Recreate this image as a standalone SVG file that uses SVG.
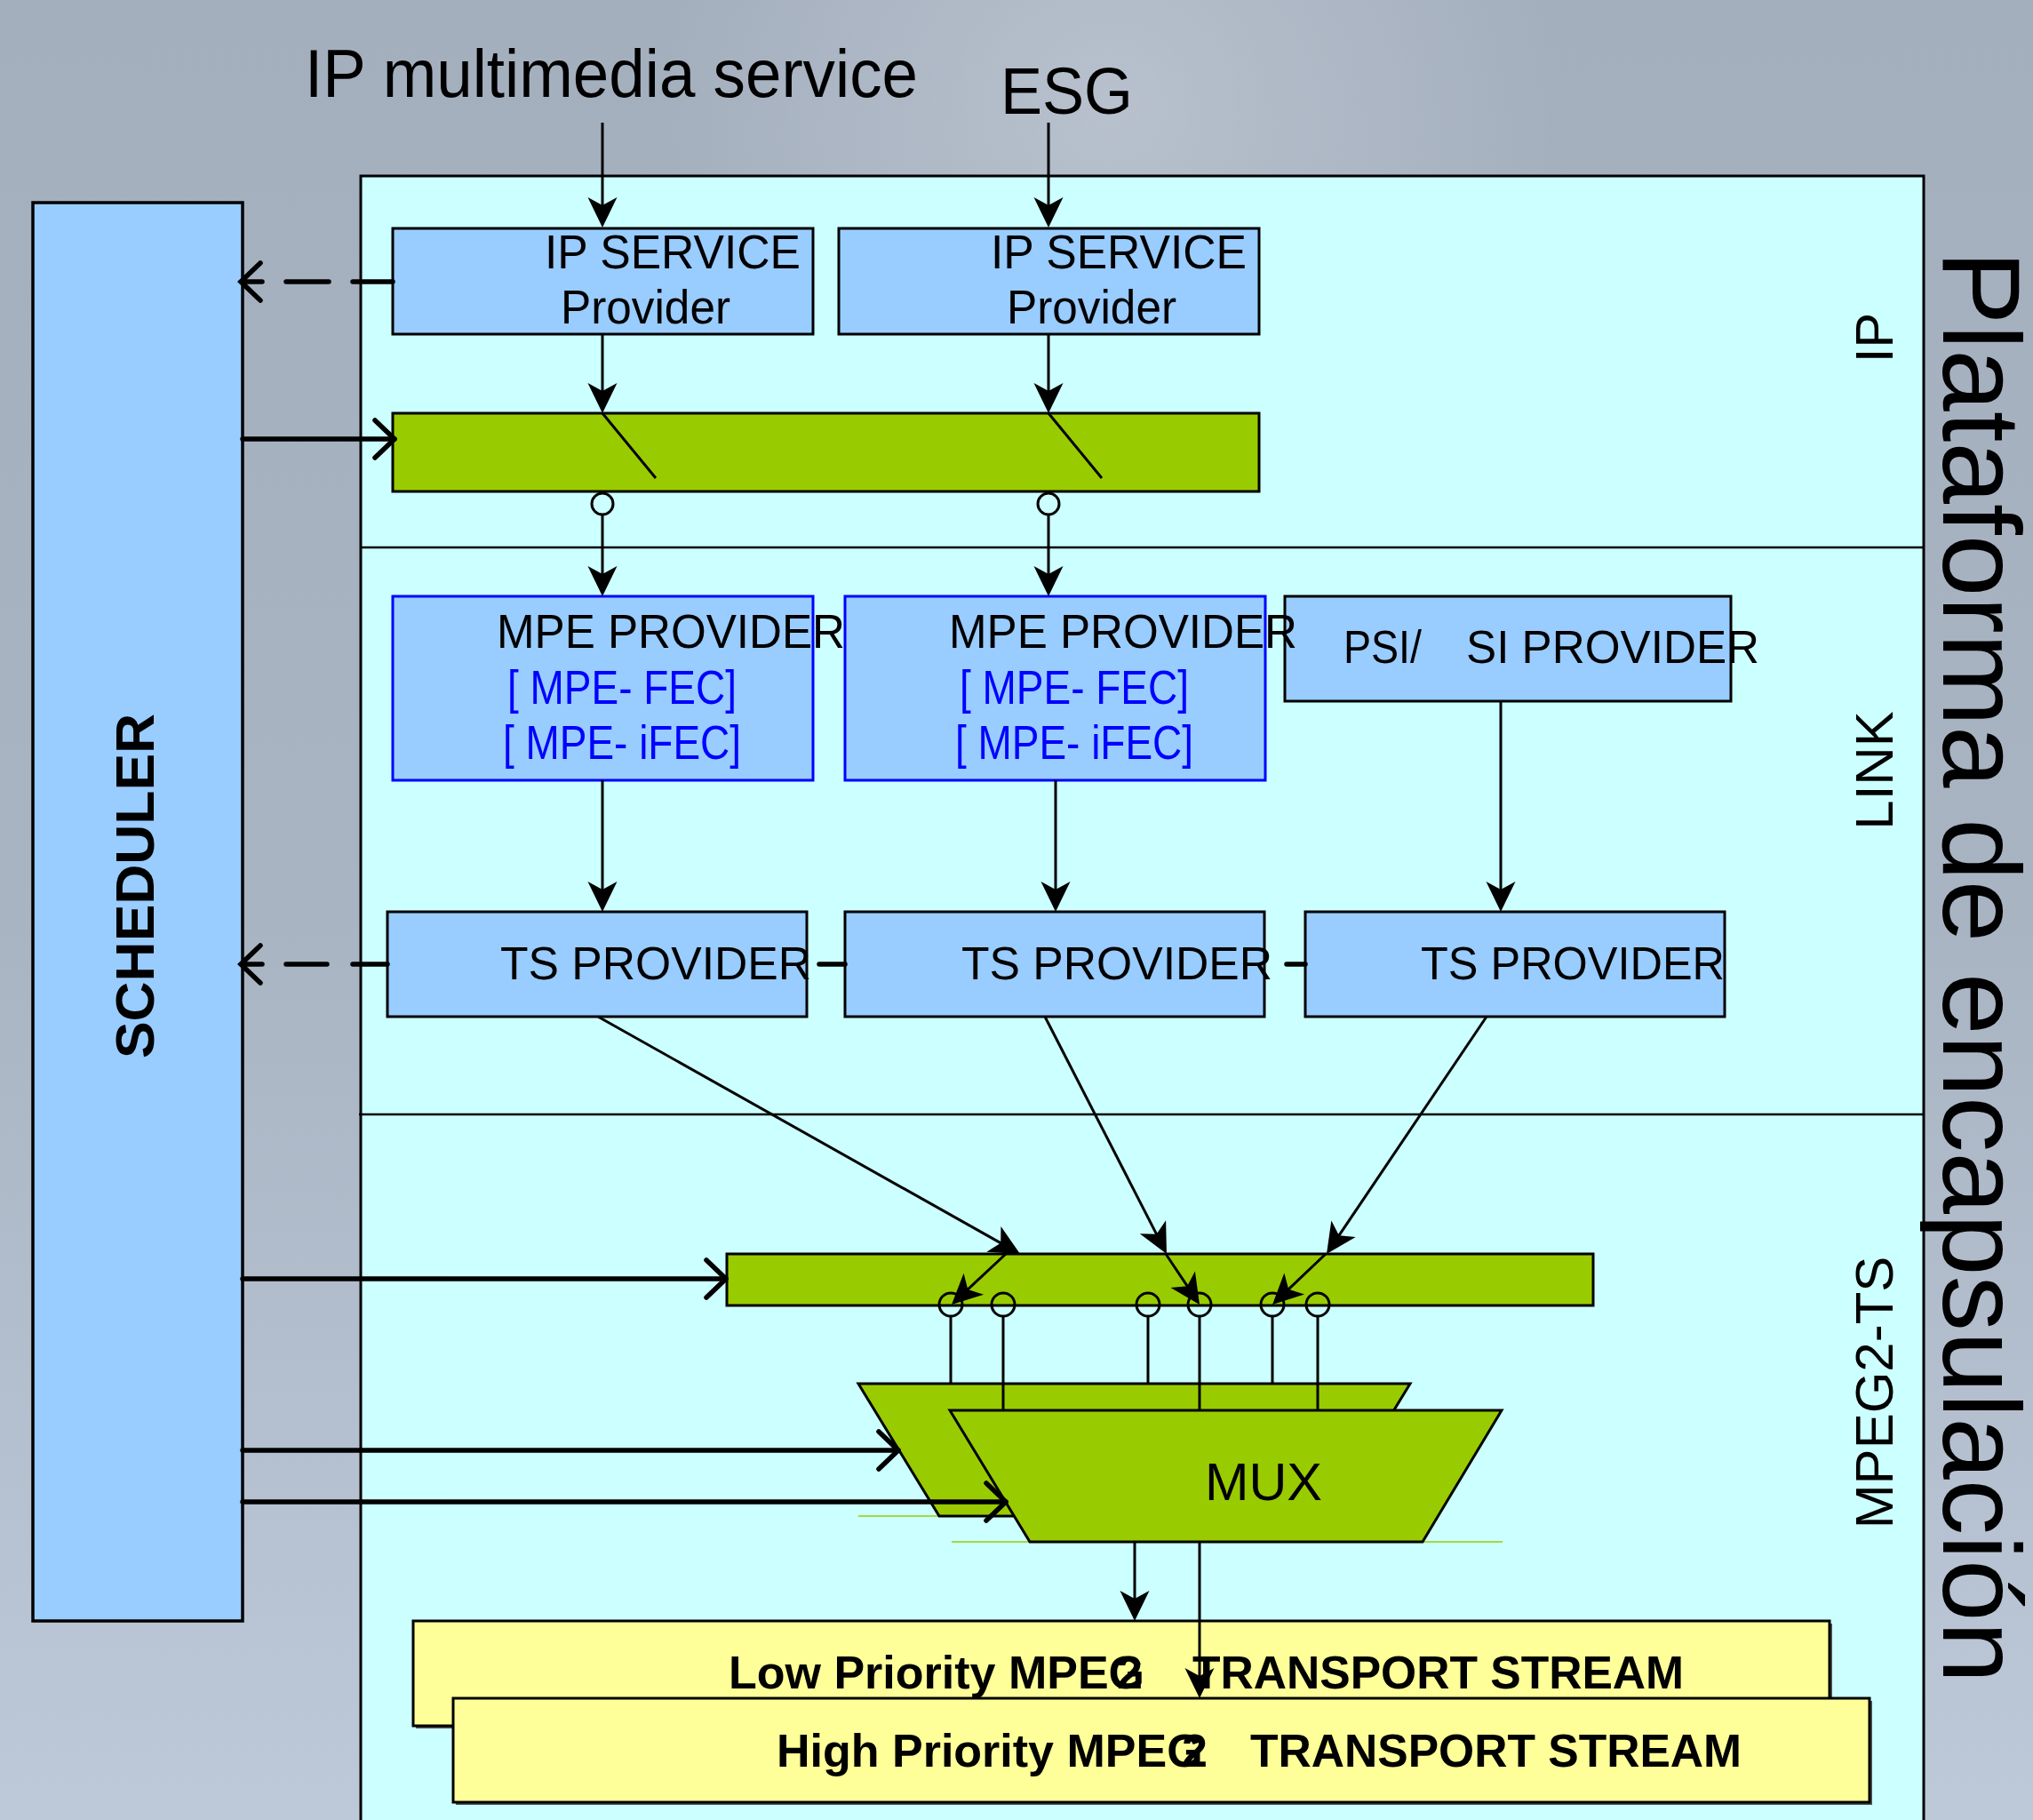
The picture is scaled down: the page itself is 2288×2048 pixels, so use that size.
<svg xmlns="http://www.w3.org/2000/svg" width="2288" height="2048" viewBox="0 0 2288 2048">
<defs>
<linearGradient id="bg" x1="0" y1="0" x2="0" y2="1">
<stop offset="0" stop-color="#a4afbe"/>
<stop offset="0.5" stop-color="#a9b4c3"/>
<stop offset="1" stop-color="#bdc8d8"/>
</linearGradient>
<radialGradient id="hl" cx="1250" cy="120" r="500" gradientUnits="userSpaceOnUse">
<stop offset="0" stop-color="#c4ccd6" stop-opacity="0.6"/>
<stop offset="1" stop-color="#c4ccd6" stop-opacity="0"/>
</radialGradient>
<marker id="ah" markerUnits="userSpaceOnUse" viewBox="-26 -18 38 36" markerWidth="38" markerHeight="36" refX="0" refY="0" orient="auto">
<path d="M10,0 L-24,-16.5 L-15,0 L-24,16.5 Z" fill="#000"/>
</marker>
<marker id="chev" markerUnits="userSpaceOnUse" viewBox="-28 -26 34 52" markerWidth="34" markerHeight="52" refX="0" refY="0" orient="auto">
<path d="M-22,-21 L0,0 L-22,21" fill="none" stroke="#000" stroke-width="5.5" stroke-linecap="round" stroke-linejoin="round"/>
</marker>
</defs>
<style>
.t{font-family:"Liberation Sans",Arial,sans-serif;fill:#000}
.b{font-weight:bold}
.blue{fill:#0000ff}
.box{fill:#99ccff;stroke:#000;stroke-width:3}
.mpe{fill:#99ccff;stroke:#0000ff;stroke-width:3}
.grn{fill:#99cc00;stroke:#000;stroke-width:3}
.yel{fill:#ffff99;stroke:#000;stroke-width:3}
.shd{fill:#555}
.ln{fill:none;stroke:#000;stroke-width:3}
.arr{fill:none;stroke:#000;stroke-width:3;marker-end:url(#ah)}
.thk{fill:none;stroke:#000;stroke-width:5.5;stroke-linecap:round;marker-end:url(#chev)}
.dsh{fill:none;stroke:#000;stroke-width:5.5;stroke-linecap:round}
.circ{fill:none;stroke:#000;stroke-width:3}
.gl{stroke:#99cc00;stroke-width:1.5}
</style>

<rect x="0" y="0" width="2288" height="2048" fill="url(#bg)"/>
<rect x="0" y="0" width="2288" height="600" fill="url(#hl)"/>

<g id="panel">
<rect x="406" y="198" width="1759" height="1900" fill="#ccffff" stroke="#000" stroke-width="3"/>
<line x1="406" y1="616" x2="2165" y2="616" stroke="#000" stroke-width="2.5"/>
<line x1="404" y1="1254" x2="2165" y2="1254" stroke="#000" stroke-width="2.5"/>
<text class="t" font-size="60" transform="translate(2130,380) rotate(-90)" text-anchor="middle">IP</text>
<text class="t" font-size="60" transform="translate(2130,867) rotate(-90)" text-anchor="middle">LINK</text>
<text class="t" font-size="60" transform="translate(2130,1567) rotate(-90)" text-anchor="middle">MPEG2-TS</text>
</g>

<g id="title">
<text class="t" font-size="125" transform="translate(2187,282) rotate(90)">Plataforma de encapsulación</text>
</g>

<g id="input-ip">
<text class="t" x="343" y="109" font-size="76" textLength="690" lengthAdjust="spacingAndGlyphs">IP multimedia service</text>
</g>
<g id="input-esg">
<text class="t" x="1126" y="128" font-size="74" textLength="149" lengthAdjust="spacingAndGlyphs">ESG</text>
</g>

<g id="scheduler">
<rect x="37" y="228" width="236" height="1596" fill="#99ccff" stroke="#000" stroke-width="3.5"/>
<text class="t b" font-size="62" transform="translate(173,997) rotate(-90)" text-anchor="middle" textLength="388" lengthAdjust="spacingAndGlyphs">SCHEDULER</text>
</g>

<g id="ip-service-1">
<rect class="box" x="442" y="257" width="473" height="119"/>
<text class="t" x="613" y="302" font-size="53" textLength="288" lengthAdjust="spacingAndGlyphs">IP SERVICE</text>
<text class="t" x="631" y="364" font-size="53" textLength="191" lengthAdjust="spacingAndGlyphs">Provider</text>
</g>
<g id="ip-service-2">
<rect class="box" x="944" y="257" width="473" height="119"/>
<text class="t" x="1115" y="302" font-size="53" textLength="288" lengthAdjust="spacingAndGlyphs">IP SERVICE</text>
<text class="t" x="1133" y="364" font-size="53" textLength="191" lengthAdjust="spacingAndGlyphs">Provider</text>
</g>

<g id="ip-switch">
<rect class="grn" x="442" y="465" width="975" height="88"/>
</g>

<g id="psi-si-provider">
<rect class="box" x="1446" y="671" width="502" height="118"/>
<text class="t" y="746" font-size="52"><tspan x="1512" textLength="88" lengthAdjust="spacingAndGlyphs">PSI/</tspan> <tspan x="1650" textLength="330" lengthAdjust="spacingAndGlyphs">SI PROVIDER</tspan></text>
</g>
<g id="mpe-provider-1">
<rect class="mpe" x="442" y="671" width="473" height="207"/>
<text class="t" x="559" y="729" font-size="53" textLength="392" lengthAdjust="spacingAndGlyphs">MPE PROVIDER</text>
<text class="t blue" x="571" y="792" font-size="53" textLength="258" lengthAdjust="spacingAndGlyphs">[ MPE- FEC]</text>
<text class="t blue" x="566" y="854" font-size="53" textLength="268" lengthAdjust="spacingAndGlyphs">[ MPE- iFEC]</text>
</g>
<g id="mpe-provider-2">
<rect class="mpe" x="951" y="671" width="473" height="207"/>
<text class="t" x="1068" y="729" font-size="53" textLength="392" lengthAdjust="spacingAndGlyphs">MPE PROVIDER</text>
<text class="t blue" x="1080" y="792" font-size="53" textLength="258" lengthAdjust="spacingAndGlyphs">[ MPE- FEC]</text>
<text class="t blue" x="1075" y="854" font-size="53" textLength="268" lengthAdjust="spacingAndGlyphs">[ MPE- iFEC]</text>
</g>

<g id="ts-provider-1">
<rect class="box" x="436" y="1026" width="472" height="118"/>
<text class="t" x="563" y="1102" font-size="52" textLength="350" lengthAdjust="spacingAndGlyphs">TS PROVIDER</text>
</g>
<g id="ts-provider-2">
<rect class="box" x="951" y="1026" width="472" height="118"/>
<text class="t" x="1082" y="1102" font-size="52" textLength="350" lengthAdjust="spacingAndGlyphs">TS PROVIDER</text>
</g>
<g id="ts-provider-3">
<rect class="box" x="1469" y="1026" width="472" height="118"/>
<text class="t" x="1599" y="1102" font-size="52" textLength="342" lengthAdjust="spacingAndGlyphs">TS PROVIDER</text>
</g>

<g id="ts-switch">
<rect class="grn" x="818" y="1411" width="975" height="58"/>
</g>

<g id="mux-back">
<line class="gl" x1="966" y1="1706" x2="1058" y2="1706"/>
<polygon class="grn" points="966,1557 1587,1557 1496,1706 1057,1706"/>
</g>
<g id="mux">
<line class="gl" x1="1071" y1="1735" x2="1691" y2="1735"/>
<polygon class="grn" points="1069,1587 1690,1587 1601,1735 1159,1735"/>
<text class="t" x="1356" y="1688" font-size="60" textLength="132" lengthAdjust="spacingAndGlyphs">MUX</text>
</g>

<g id="low-priority-ts">
<rect class="shd" x="468" y="1827" width="1594" height="118"/>
<rect class="yel" x="465" y="1824" width="1594" height="118"/>
<text class="t b" y="1900" font-size="52"><tspan x="820">Low Priority MPEG</tspan><tspan x="1257">2</tspan> <tspan x="1342" textLength="553" lengthAdjust="spacingAndGlyphs">TRANSPORT STREAM</tspan></text>
</g>
<g id="high-priority-ts">
<rect class="shd" x="513" y="1914" width="1594" height="117"/>
<rect class="yel" x="510" y="1911" width="1594" height="117"/>
<text class="t b" y="1988" font-size="52"><tspan x="874">High Priority MPEG</tspan><tspan x="1330">2</tspan> <tspan x="1407" textLength="553" lengthAdjust="spacingAndGlyphs">TRANSPORT STREAM</tspan></text>
</g>

<g id="connectors">
<path class="arr" d="M678,138 V246"/>
<path class="arr" d="M1180,138 V246"/>
<path class="arr" d="M678,376 V455"/>
<path class="arr" d="M1180,376 V455"/>
<path class="ln" d="M678,465 L738,538"/>
<path class="ln" d="M1180,465 L1240,538"/>
<circle class="circ" cx="678" cy="567" r="12"/>
<circle class="circ" cx="1180" cy="567" r="12"/>
<path class="arr" d="M678,579 V661"/>
<path class="arr" d="M1180,579 V661"/>
<path class="arr" d="M678,878 V1016"/>
<path class="arr" d="M1188,878 V1016"/>
<path class="arr" d="M1689,789 V1016"/>
<path class="arr" d="M673,1144 L1139.3,1406.1"/>
<path class="arr" d="M1176,1144 L1308.4,1402.1"/>
<path class="arr" d="M1673,1144 L1498.6,1402.7"/>
<path class="arr" d="M1132,1411 L1078.3,1461.2"/>
<path class="arr" d="M1312,1411 L1344.5,1459.7"/>
<path class="arr" d="M1492,1411 L1439.3,1461.1"/>
<circle class="circ" cx="1070" cy="1468" r="13"/>
<circle class="circ" cx="1129" cy="1468" r="13"/>
<circle class="circ" cx="1292" cy="1468" r="13"/>
<circle class="circ" cx="1350" cy="1468" r="13"/>
<circle class="circ" cx="1432" cy="1468" r="13"/>
<circle class="circ" cx="1483" cy="1468" r="13"/>
<path class="ln" d="M1070,1481 V1557 M1292,1481 V1557 M1432,1481 V1557 M1129,1481 V1587 M1350,1481 V1587 M1483,1481 V1587"/>
<path class="arr" d="M1277,1735 V1814"/>
<path class="arr" d="M1350,1735 V1901"/>
<path class="thk" d="M273,494 H444"/>
<path class="thk" d="M273,1439 H817"/>
<path class="thk" d="M273,1632 H1011"/>
<path class="thk" d="M273,1690 H1132"/>
<path class="dsh" d="M442,317 H397 M370,317 H322 M295,317 H271 M293,296 L271,317 L293,338"/>
<path class="dsh" d="M1469,1085 H1448 M951,1085 H922 M436,1085 H397 M368,1085 H322 M295,1085 H271 M293,1064 L271,1085 L293,1106"/>
</g>
</svg>
